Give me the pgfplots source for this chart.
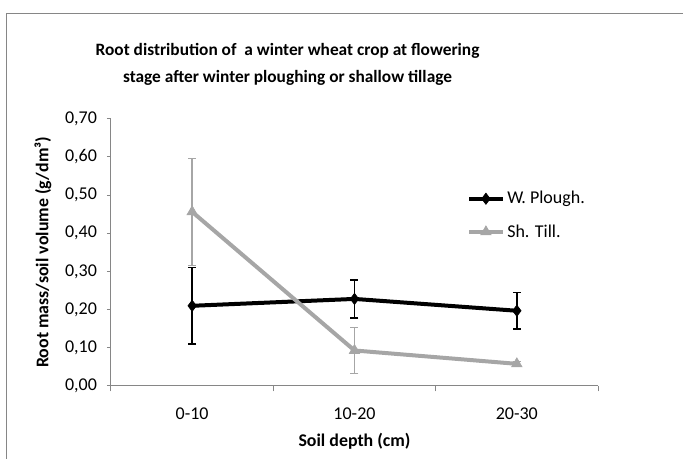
\documentclass[border=0pt]{standalone}
\usepackage{pgfplots}
\pgfplotsset{compat=1.18}
\usepackage{fontspec}
\setmainfont{Carlito}
\definecolor{axgray}{HTML}{868686}
\definecolor{serGray}{HTML}{A6A6A6}
\begin{document}
\begin{tikzpicture}
\useasboundingbox (-83.25pt,-54.75pt) rectangle (429pt,289.5pt);
\draw[axgray, line width=0.75pt] (-78pt,-60pt) -- (-78pt,279pt) -- (440pt,279pt);
\node[align=center, font=\fontsize{13}{20.25}\selectfont\bfseries] at (132.4pt,241pt)
  {Root distribution of\ \ a winter wheat crop at flowering\\stage after winter ploughing or shallow tillage};
\begin{axis}[
  scale only axis,
  width=365.25pt, height=200.5pt,
  xmin=-0.5, xmax=2.5, ymin=0, ymax=0.7,
  axis x line*=bottom, axis y line*=left,
  axis line style={axgray, line width=0.75pt},
  xtick={0,1,2}, xticklabels={0-10,10-20,20-30},
  major x tick style={draw=none},
  minor xtick={-0.5,0.5,1.5,2.5},
  minor x tick style={axgray, line width=0.75pt},
  ytick={0,0.1,...,0.71},
  y tick style={axgray, line width=0.75pt},
  tick align=outside,
  major tick length=3pt, minor tick length=4pt,
  ticklabel style={font=\fontsize{13.5}{16}\selectfont},
  xticklabel style={yshift=-10pt},
  yticklabel style={xshift=-4pt},
  /pgf/number format/.cd, fixed, fixed zerofill, precision=2, use comma, assume math mode=true,
  /pgfplots/.cd,
  xlabel={Soil depth (cm)},
  ylabel={Root mass/soil volume (g/dm³)},
  label style={font=\fontsize{13.4}{16}\selectfont\bfseries},
  xlabel style={at={(axis description cs:0.5,-0.205)}, anchor=center},
  ylabel style={at={(axis description cs:-0.14,0.5)}, anchor=center},
  legend style={at={(axis cs:1.693,0.517)}, anchor=north west, draw=none, fill=none,
    font=\fontsize{13.5}{16}\selectfont, row sep=10pt, inner sep=0pt,
    /tikz/every even column/.append style={column sep=1pt}},
  legend cell align=left,
  legend image code/.code={\draw[mark repeat=2,mark phase=2,#1] plot coordinates {(0pt,0pt) (12.5pt,0pt) (25pt,0pt)};},
  clip=false,
]
\addplot[black, line width=3pt, mark=diamond*, mark size=4.2pt, mark options={solid, line width=0.5pt},
  error bars/.cd, y dir=both, y explicit, error bar style={black, line width=1.1pt}, error mark options={black, line width=1.1pt, mark size=3pt, rotate=90}]
  coordinates {(0,0.210) +- (0,0.100) (1,0.228) +- (0,0.050) (2,0.197) +- (0,0.048)};
\addlegendentry{W. Plough.}
\addplot[serGray, line width=3pt, mark=triangle*, mark size=4.5pt, mark options={solid, line width=0.5pt},
  error bars/.cd, y dir=both, y explicit, error bar style={serGray, line width=1.1pt}, error mark options={serGray, line width=1.1pt, mark size=3pt, rotate=90}]
  coordinates {(0,0.456) +- (0,0.140) (1,0.093) +- (0,0.060) (2,0.058) +- (0,0.006)};
\addlegendentry{Sh. Till.}
\end{axis}
\end{tikzpicture}
\end{document}
